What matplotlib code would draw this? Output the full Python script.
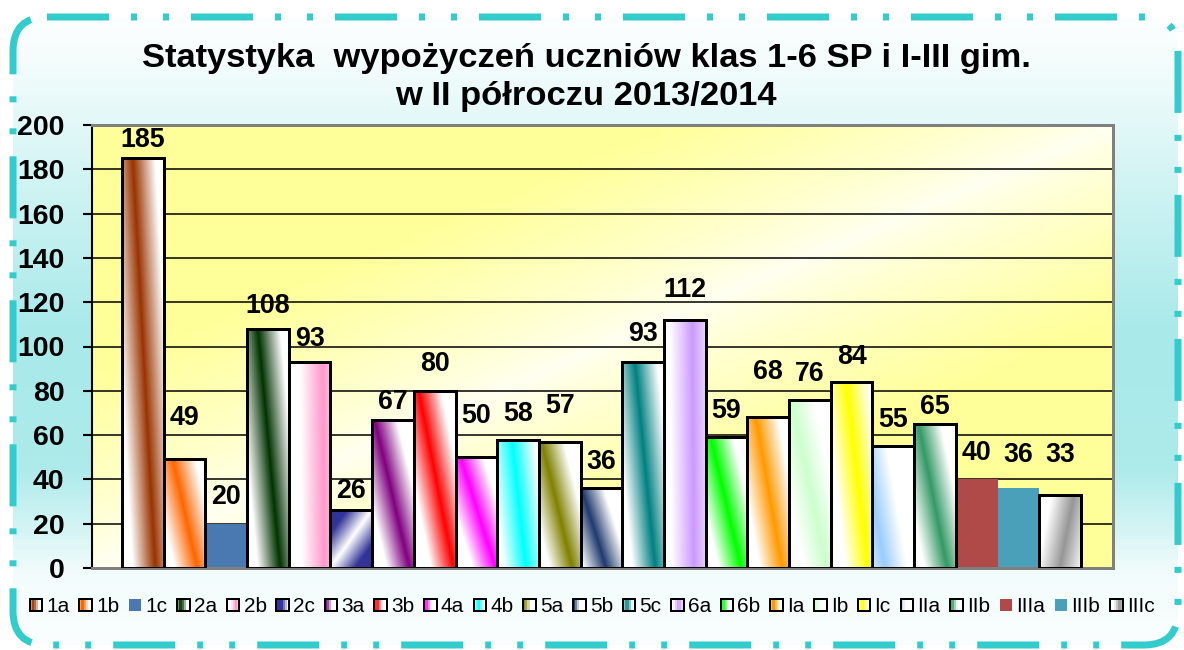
import numpy as np
import matplotlib.pyplot as plt
from matplotlib.patches import FancyBboxPatch, Rectangle
from matplotlib.legend_handler import HandlerBase
from matplotlib.colors import to_rgb

plt.rcParams['font.family'] = ['Liberation Sans', 'DejaVu Sans']
plt.rcParams['lines.scale_dashes'] = False

# ---------------- DATA ----------------
title_lines = ["Statystyka  wypożyczeń uczniów klas 1-6 SP i I-III gim.",
               "w II półroczu 2013/2014"]
classes = ["1a", "1b", "1c", "2a", "2b", "2c", "3a", "3b", "4a", "4b", "5a", "5b",
           "5c", "6a", "6b", "Ia", "Ib", "Ic", "IIa", "IIb", "IIIa", "IIIb", "IIIc"]
loans = [185, 49, 20, 108, 93, 26, 67, 80, 50, 58, 57, 36,
         93, 112, 59, 68, 76, 84, 55, 65, 40, 36, 33]
y_ticks = [0, 20, 40, 60, 80, 100, 120, 140, 160, 180, 200]

# ---------------- STYLE ----------------
bar_colors = ["#993300", "#FF6600", "#4A78B0", "#003300", "#FF99CC", "#333399",
              "#800080", "#FF0000", "#FF00FF", "#00FFFF", "#808000", "#1F3A6E",
              "#008080", "#CC99FF", "#00FF00", "#FF9900", "#CCFFCC", "#FFFF00",
              "#99CCFF", "#339966", "#B04A48", "#4AA0B8", "#969696"]
bar_fill = ["band", "band", "solid", "band", "band", "cross", "band", "band",
            "band", "band", "band", "band", "band", "band", "band", "band",
            "band", "band", "band", "band", "solid", "solid", "band"]
band_top = [0.25, 0.2, 0, 0.25, 0.8, 1.0, 0.05, 0.1, 0.1, 0.35, 0.05, 0.0,
            0.3, 0.68, 0.1, 0.2, 0.05, 0.35, -0.2, 0.1, 0, 0, 0.85]
band_bottom = [0.8, 0.8, 0, 0.8, 0.85, 0.0, 0.9, 0.95, 0.95, 0.7, 0.8, 0.6,
               0.8, 0.72, 0.85, 0.85, 0.9, 0.9, 0.3, 0.8, 0, 0, 0.5]
label_lift = [18, 41, 27, 23, 23, 19, 18, 27, 41, 26, 36, 26,
              28, 30, 26, 45, 26, 25, 26, 17, 26, 33, 40]

W, H = 1184, 650
PT = 72 / 100  # points per pixel


def bar_image(i, nx=40, ny=120):
    u = np.linspace(0, 1, nx)[None, :]
    v = np.linspace(0, 1, ny)[:, None]
    d = u - (band_top[i] + (band_bottom[i] - band_top[i]) * v)
    if bar_fill[i] == "cross":
        t = np.clip(np.abs(d) / 0.6, 0, 1)
    else:
        t = np.clip(1 - np.abs(d) / 0.55, 0, 1)
    c = np.array(to_rgb(bar_colors[i]))
    return 1 - t[..., None] * (1 - c)


fig = plt.figure(figsize=(W / 100, H / 100), dpi=100)
fig.patch.set_facecolor("white")

# ---------------- FRAME BACKGROUND ----------------
bg = fig.add_axes([0, 0, 1, 1], zorder=-5)
bg.set_xlim(0, W)
bg.set_ylim(H, 0)
bg.axis("off")
yy = np.linspace(0, H, 200)
prof = np.interp(yy, [0, 60, 200, 330, 470, 575, 650], [0, 0.05, 0.25, 0.42, 0.4, 0.06, 0.02])
cyan = np.array(to_rgb("#33CCCC"))
grad = 1 - prof[:, None, None] * (1 - cyan)[None, None, :]
grad = np.repeat(grad, 2, axis=1)
frame = FancyBboxPatch((13, 17), 1165, 628, boxstyle="round,pad=0,rounding_size=34",
                       facecolor="none", edgecolor="#33CCCC", lw=7 * PT,
                       linestyle=(0, (62 * PT, 22 * PT, 6 * PT, 26 * PT, 6 * PT, 22 * PT)))
bg.add_patch(frame)
im = bg.imshow(grad, extent=(0, W, H, 0), aspect="auto", zorder=0)
im.set_clip_path(frame)

# ---------------- TITLE ----------------
fig.text(586 / W, 1 - 58 / H, title_lines[0], ha="center", va="center",
         fontsize=24.8, fontweight="bold")
fig.text(586 / W, 1 - 97 / H, title_lines[1], ha="center", va="center",
         fontsize=24.8, fontweight="bold")

# ---------------- PLOT AREA ----------------
ax = fig.add_axes([92 / W, 1 - 568 / H, (1113 - 92) / W, (568 - 125) / H])
x = np.arange(len(loans))
xlim = (-1.22, len(loans) - 1 + 1.27)

# yellow diagonal gradient background
uu = np.linspace(0, 1, 200)[None, :]
ww = np.linspace(1, 0, 120)[:, None]
tb = np.clip(np.abs(uu - ww) / 0.45, 0, 1) ** 0.8
pale = np.array(to_rgb("#FFFFF2"))
yel = np.array(to_rgb("#FFFF99"))
ax.imshow(pale + tb[..., None] * (yel - pale), extent=(xlim[0], xlim[1], 0, 200),
          aspect="auto", zorder=0)

ax.set_axisbelow(True)
ax.yaxis.grid(True, color="black", lw=1.1)
ax.set_xlim(*xlim)
ax.set_ylim(0, 200)

bars = ax.bar(x, loans, width=1.0, zorder=2)
for i, b in enumerate(bars):
    if bar_fill[i] == "solid":
        b.set_facecolor(bar_colors[i])
        b.set_edgecolor("none")
        continue
    b.set_facecolor("none")
    b.set_edgecolor("black")
    b.set_linewidth(3 * PT)
    b.set_zorder(3)
    gi = ax.imshow(bar_image(i), extent=(b.get_x(), b.get_x() + b.get_width(), 0, b.get_height()),
                   aspect="auto", zorder=2, origin="upper")
    gi.set_clip_path(b)

ax.set_xlim(*xlim)
ax.set_ylim(0, 200)

for i, v in enumerate(loans):
    ax.annotate(str(v), xy=(i, v), xytext=(0, label_lift[i] * PT), textcoords="offset points",
                ha="center", va="center", fontsize=19.3, fontweight="bold", zorder=5)

ax.set_xticks([])
ax.set_yticks(y_ticks)
ax.tick_params(axis="y", labelsize=20.5, length=9 * PT, width=1.5, pad=13.5, direction="out")
for lab in ax.get_yticklabels():
    lab.set_fontweight("bold")
for side in ["top", "right", "bottom"]:
    ax.spines[side].set_color("#808080")
    ax.spines[side].set_linewidth(3 * PT)
ax.spines["left"].set_color("black")
ax.spines["left"].set_linewidth(1.5)


# ---------------- LEGEND ----------------
class GradientSquare(HandlerBase):
    def __init__(self, idx):
        super().__init__()
        self.idx = idx

    def create_artists(self, legend, orig_handle, xdescent, ydescent, width, height, fontsize, trans):
        s = min(width, height)
        x0 = -xdescent + (width - s) / 2
        y0 = -ydescent + (height - s) / 2
        i = self.idx
        arts = []
        if bar_fill[i] == "solid":
            arts.append(Rectangle((x0, y0), s, s, facecolor=bar_colors[i], edgecolor="none",
                                  transform=trans))
            return arts
        img = bar_image(i, nx=6, ny=1)[0]
        n = len(img)
        for k in range(n):
            arts.append(Rectangle((x0 + k * s / n, y0), s / n + 0.01, s, facecolor=img[k],
                                  edgecolor="none", transform=trans))
        arts.append(Rectangle((x0, y0), s, s, facecolor="none", edgecolor="black",
                              lw=2 * PT, transform=trans))
        return arts


proxies = [Rectangle((0, 0), 1, 1) for _ in classes]
leg = fig.legend(proxies, classes, loc="center", bbox_to_anchor=(592 / W, 1 - 607 / H),
                 ncol=len(classes), frameon=False, fontsize=15,
                 handlelength=0.6, handleheight=0.6, handletextpad=0.2, columnspacing=0.47,
                 borderaxespad=0, borderpad=0,
                 handler_map={p: GradientSquare(i) for i, p in enumerate(proxies)})

fig.savefig("out.png", dpi=100)
